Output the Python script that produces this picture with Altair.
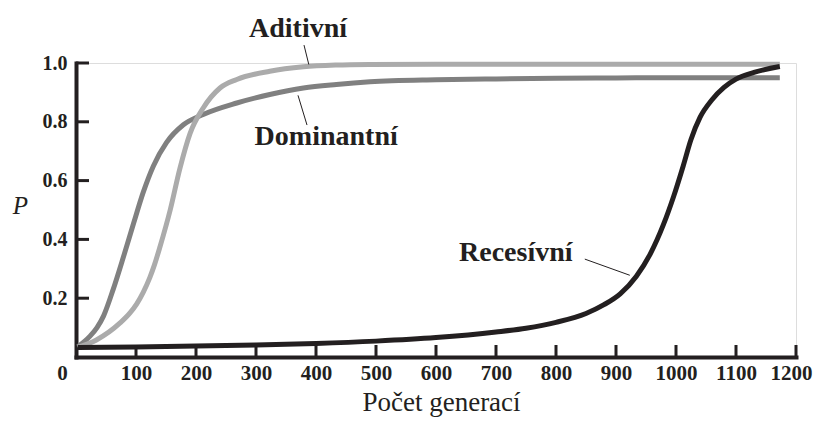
import altair as alt
import pandas as pd

# ---- data ----
gen_dom = [3, 23, 35, 46, 62, 79, 96, 112, 129, 151, 179, 212, 268, 323, 379, 434, 490, 600, 700, 800, 900, 1000, 1100, 1173]
p_dom = [0.035, 0.07, 0.10, 0.14, 0.23, 0.34, 0.455, 0.56, 0.65, 0.73, 0.79, 0.825, 0.864, 0.893, 0.915, 0.927, 0.936, 0.943, 0.946, 0.948, 0.949, 0.95, 0.95, 0.95]

gen_add = [3, 34, 73, 90, 101, 112, 123, 131, 140, 157, 173, 190, 212, 240, 268, 323, 379, 434, 490, 600, 800, 1000, 1173]
p_add = [0.033, 0.058, 0.115, 0.15, 0.18, 0.22, 0.27, 0.315, 0.375, 0.50, 0.64, 0.76, 0.847, 0.915, 0.944, 0.972, 0.987, 0.993, 0.995, 0.996, 0.996, 0.996, 0.996]

gen_rec = [3, 100, 200, 300, 400, 500, 600, 700, 750, 800, 850, 880, 907, 934, 957, 979, 996, 1012, 1025, 1040, 1060, 1080, 1100, 1130, 1173]
p_rec = [0.032, 0.034, 0.037, 0.041, 0.046, 0.054, 0.066, 0.085, 0.098, 0.118, 0.148, 0.178, 0.215, 0.275, 0.35, 0.45, 0.546, 0.65, 0.74, 0.815, 0.875, 0.917, 0.945, 0.968, 0.988]

series_names = ["Dominantní", "Aditivní", "Recesívní"]
series_colors = ["#808080", "#ababab", "#231f20"]

x_tick_values = [0, 100, 200, 300, 400, 500, 600, 700, 800, 900, 1000, 1100, 1200]
y_tick_values = [0.2, 0.4, 0.6, 0.8, 1.0]

# annotation labels (data coordinates)
label_text = ["Aditivní", "Dominantní", "Recesívní"]
label_g = [370, 417, 733]
label_p = [1.115, 0.748, 0.354]
leader_g1 = [380, 370, 848]
leader_p1 = [1.061, 0.89, 0.333]
leader_g2 = [388, 385, 923]
leader_p2 = [0.995, 0.789, 0.278]

INK = "#231f20"
SERIF = "Liberation Serif"

xs = alt.Scale(domain=[0, 1200], nice=False, zero=False)
ys = alt.Scale(domain=[0, 1], nice=False, zero=False)

x_axis = alt.Axis(
    values=x_tick_values, format="d", ticks=False, tickSize=0, grid=False,
    domainWidth=4, domainColor=INK, domainCap="square",
    labelFont=SERIF, labelFontWeight="bold", labelFontSize=21, labelColor=INK,
    labelPadding=5, labelAngle=0, labelFlush=False, labelOverlap=False,
    labelOffset={"condition": [{"test": "datum.value == 0", "value": -14},
                               {"test": "datum.value == 1200", "value": -5}], "value": 0},
    title="Počet generací", titleFont=SERIF, titleFontSize=27, titleFontWeight="normal",
    titleColor=INK, titleX=365, titleY=53, titleBaseline="alphabetic", titleAlign="center",
)
y_axis = alt.Axis(
    values=y_tick_values, format=".1f", ticks=False, tickSize=0, grid=False,
    domainWidth=4, domainColor=INK, domainCap="square",
    labelFont=SERIF, labelFontWeight="bold", labelFontSize=20, labelColor=INK,
    labelPadding=9, labelFlush=False, labelOverlap=False,
    title="P", titleFont=SERIF, titleFontSize=25, titleFontWeight="normal",
    titleFontStyle="italic", titleColor=INK, titleAngle=0,
    titleX=-56, titleY=142, titleAlign="center", titleBaseline="middle",
)

X = alt.X("g:Q", scale=xs, axis=x_axis)
Y = alt.Y("P:Q", scale=ys, axis=y_axis)

layers = []
for name, col, gs, ps in zip(series_names, series_colors, [gen_dom, gen_add, gen_rec], [p_dom, p_add, p_rec]):
    df = pd.DataFrame({"g": gs, "P": ps})
    layers.append(
        alt.Chart(df).mark_line(color=col, strokeWidth=5, interpolate="monotone", strokeCap="butt").encode(x=X, y=Y)
    )

xt = pd.DataFrame({"g": x_tick_values[1:], "P": [0] * (len(x_tick_values) - 1)})
layers.append(alt.Chart(xt).mark_tick(orient="vertical", size=12, thickness=3, yOffset=-6, color=INK, opacity=1).encode(x=X, y=Y))

yt = pd.DataFrame({"g": [0] * len(y_tick_values), "P": y_tick_values})
layers.append(alt.Chart(yt).mark_tick(orient="horizontal", size=13, thickness=3, xOffset=6.5, color=INK, opacity=1).encode(x=X, y=Y))

leaders = pd.DataFrame({"g": leader_g1, "P": leader_p1, "g2": leader_g2, "P2": leader_p2})
layers.append(alt.Chart(leaders).mark_rule(color=INK, strokeWidth=1).encode(x=X, y=Y, x2="g2:Q", y2="P2:Q"))

labels = pd.DataFrame({"g": label_g, "P": label_p, "t": label_text})
layers.append(
    alt.Chart(labels).mark_text(font=SERIF, fontSize=28, fontWeight="bold", color=INK, baseline="middle", align="center")
    .encode(x=X, y=Y, text="t:N")
)

chart = alt.layer(*layers).properties(
    width=720, height=294, autosize="none",
    padding={"left": 68, "top": 55, "right": 17, "bottom": 61},
).configure_view(stroke=None).configure(background="white")

chart.save("out.html", embed_options={"renderer": "svg", "actions": False})
